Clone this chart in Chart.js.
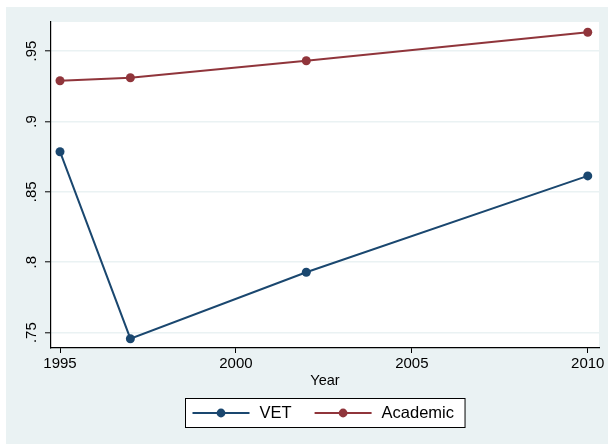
<!DOCTYPE html>
<html>
<head>
<meta charset="utf-8">
<script src="https://cdn.jsdelivr.net/npm/chart.js@4/dist/chart.umd.min.js"></script>
<style>
  html, body { margin: 0; padding: 0; background: #ffffff; }
  #wrap { width: 608px; height: 444px; position: relative; }
</style>
</head>
<body>
<div id="wrap"><canvas id="c" width="608" height="444"></canvas></div>
<script>
const years = [1995, 1997, 2002, 2010];
const vetValues = [0.8785, 0.7457, 0.7929, 0.8613];
const academicValues = [0.9289, 0.9310, 0.9431, 0.9633];
const xTickValues = [1995, 2000, 2005, 2010];
const yTickValues = [0.75, 0.8, 0.85, 0.9, 0.95];
const seriesNames = ['VET', 'Academic'];
const xTitle = 'Year';

const NAVY = '#1a476f';
const MAROON = '#90353b';
const BG = '#eaf2f3';
const FONT = "'Liberation Sans', Arial, Helvetica, sans-serif";

const bgPlugin = {
  id: 'stataBg',
  beforeDraw(chart) {
    const {ctx, chartArea: a} = chart;
    ctx.save();
    ctx.fillStyle = '#ffffff';
    ctx.fillRect(0, 0, chart.width, chart.height);
    ctx.fillStyle = BG;
    ctx.fillRect(6, 7, chart.width - 6, chart.height - 7);
    ctx.fillStyle = '#ffffff';
    ctx.fillRect(a.left, a.top, a.right - a.left, a.bottom - a.top);
    ctx.restore();
  }
};

const legendPlugin = {
  id: 'stataLegend',
  afterDraw(chart) {
    const {ctx, chartArea: a} = chart;
    const ds = chart.data.datasets;
    ctx.save();
    ctx.font = '16.5px ' + FONT;
    const lineLen = 57, gapText = 10, gapItem = 23, padL = 7, padR = 11;
    let total = padL + padR;
    const widths = ds.map(d => ctx.measureText(d.label).width);
    widths.forEach((w, i) => { total += lineLen + gapText + w + (i < ds.length - 1 ? gapItem : 0); });
    const cx = (a.left + a.right) / 2;
    const left = Math.round(cx - total / 2) + 0.5;
    const top = 398.5, h = 29;
    ctx.fillStyle = '#ffffff';
    ctx.fillRect(left, top, total, h);
    ctx.strokeStyle = '#000000';
    ctx.lineWidth = 1;
    ctx.strokeRect(left, top, total, h);
    const cy = top + h / 2;
    let x = left + padL;
    ds.forEach((d, i) => {
      ctx.strokeStyle = d.borderColor;
      ctx.lineWidth = 2;
      ctx.beginPath();
      ctx.moveTo(x, cy);
      ctx.lineTo(x + lineLen, cy);
      ctx.stroke();
      ctx.fillStyle = d.borderColor;
      ctx.beginPath();
      ctx.arc(x + lineLen / 2, cy, 4.4, 0, Math.PI * 2);
      ctx.fill();
      x += lineLen + gapText;
      ctx.fillStyle = '#000000';
      ctx.textBaseline = 'middle';
      ctx.textAlign = 'left';
      ctx.fillText(d.label, x, cy + 0.5);
      x += widths[i] + gapItem;
    });
    ctx.restore();
  }
};

const pts = vals => years.map((y, i) => ({x: y, y: vals[i]}));

new Chart(document.getElementById('c'), {
  type: 'line',
  data: {
    datasets: [
      { label: seriesNames[0], data: pts(vetValues), borderColor: NAVY, backgroundColor: NAVY,
        borderWidth: 2, pointRadius: 4.5, pointBorderWidth: 0, pointBackgroundColor: NAVY, tension: 0 },
      { label: seriesNames[1], data: pts(academicValues), borderColor: MAROON, backgroundColor: MAROON,
        borderWidth: 2, pointRadius: 4.5, pointBorderWidth: 0, pointBackgroundColor: MAROON, tension: 0 }
    ]
  },
  options: {
    responsive: false,
    animation: false,
    devicePixelRatio: 1,
    layout: { padding: { top: 22, right: 9, left: 0, bottom: 54.5 } },
    plugins: { legend: { display: false }, tooltip: { enabled: false } },
    scales: {
      x: {
        type: 'linear',
        min: 1994.744, max: 2010.32,
        afterBuildTicks: s => { s.ticks = xTickValues.map(v => ({value: v})); },
        afterFit: s => { s.height = 41.5; },
        grid: { drawOnChartArea: false, tickLength: 5, tickColor: '#000000', tickWidth: 1 },
        border: { color: '#000000', width: 1.2 },
        ticks: { color: '#000000', font: { family: FONT, size: 15 }, padding: 2, maxRotation: 0, minRotation: 0,
                 callback: v => String(v) },
        title: { display: true, text: xTitle, color: '#000000', font: { family: FONT, size: 14.5, lineHeight: 1.2 }, padding: 0 }
      },
      y: {
        min: 0.7391, max: 0.9706,
        afterBuildTicks: s => { s.ticks = yTickValues.map(v => ({value: v})); },
        afterFit: s => { s.width = 51; },
        grid: { color: BG, lineWidth: 1.6, tickLength: 6, tickColor: '#000000', tickWidth: 1 },
        border: { color: '#000000', width: 1.2 },
        ticks: { color: '#000000', font: { family: FONT, size: 15 }, padding: 3, minRotation: 90, maxRotation: 90,
                 crossAlign: 'center',
                 callback: v => { const s = String(Math.round(v * 100) / 100); return s.replace(/^0/, ''); } }
      }
    }
  },
  plugins: [bgPlugin, legendPlugin]
});
</script>
</body>
</html>
